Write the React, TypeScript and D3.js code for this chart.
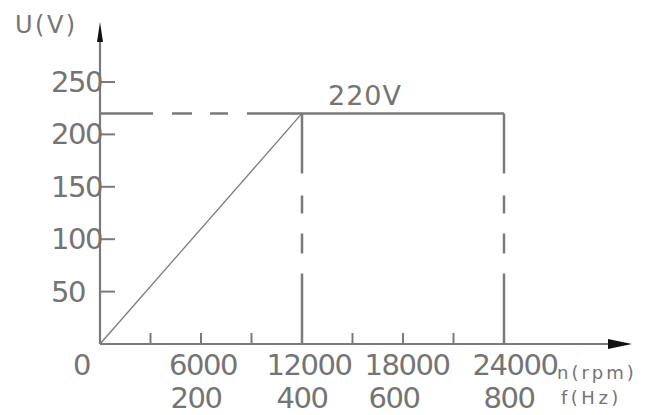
import React from "react";
import * as d3 from "d3";

const speedValues = [0, 12000, 24000];
const voltageValues = [0, 220, 220];
const speedLabels = [6000, 12000, 18000, 24000];
const freqLabels = [200, 400, 600, 800];
const minorSpeedTicks = [3000, 6000, 9000, 15000, 18000, 21000];
const voltageTicks = [50, 100, 150, 200, 250];
const ratedVoltageLabel = "220V";

const W = 653;
const H = 415;
const GRAY = "#7a7a7a";
const TEXT = "#747474";
const FONT = "'DejaVu Sans', sans-serif";

export default function App() {
  const x = d3.scaleLinear().domain([0, 24000]).range([100, 504]);
  const f = d3.scaleLinear().domain([0, 800]).range([100, 504]);
  const y = d3.scaleLinear().domain([0, 250]).range([344, 82]);

  const pts = speedValues.map((s, i) => [s, voltageValues[i]] as [number, number]);
  const line = d3.line<[number, number]>().x((d) => x(d[0])).y((d) => y(d[1]));
  const rise = line(pts.slice(0, 2)) || "";
  const plateau = line(pts.slice(1)) || "";

  const x0 = x(0);
  const y0 = y(0);
  const yTop = y(220);
  const upperOffsets = [2, 7, 4, 11];
  const lowerOffsets = [-5, 0, -9, 5];
  const num = { fontFamily: FONT, fontSize: 29, fill: TEXT, letterSpacing: -1.5 } as const;

  return (
    <svg width={W} height={H} style={{ position: "absolute", left: 0, top: 0, background: "#fff" }}>
      {/* dashed reference lines */}
      <line x1={x0} x2={x(12000)} y1={yTop} y2={yTop} stroke={GRAY} strokeWidth={2.5} strokeDasharray="53 19 20 18 18 19 60" />
      {[12000, 24000].map((v) => (
        <line key={v} x1={x(v)} x2={x(v)} y1={yTop} y2={y0} stroke={GRAY} strokeWidth={2.5} strokeDasharray="60 22 18 20 20 20 80" />
      ))}
      {/* data */}
      <path d={rise} fill="none" stroke={GRAY} strokeWidth={1.3} />
      <path d={plateau} fill="none" stroke={GRAY} strokeWidth={2.5} />

      {/* axes */}
      <line x1={x0} x2={622} y1={y0} y2={y0} stroke={GRAY} strokeWidth={2.2} />
      <path d={`M${632},${y0} L${608},${y0 - 5} L${608},${y0 + 5} Z`} fill="#111" />
      <line x1={x0} x2={x0} y1={y0} y2={34} stroke={GRAY} strokeWidth={2.2} />
      <path d={`M${x0},${22} L${x0 - 3},${42} L${x0 + 3},${42} Z`} fill="#111" />

      {minorSpeedTicks.map((t) => (
        <line key={t} x1={x(t)} x2={x(t)} y1={y0} y2={y0 - 11} stroke={GRAY} strokeWidth={2} />
      ))}
      {voltageTicks.map((t) => (
        <g key={t}>
          <line x1={x0} x2={x0 + 15} y1={y(t)} y2={y(t)} stroke={GRAY} strokeWidth={2} />
          <text x={51} y={y(t) + 10} {...num}>{t}</text>
        </g>
      ))}

      <text x={73} y={375} {...num}>0</text>
      {speedLabels.map((s, i) => (
        <text key={s} x={x(s) + upperOffsets[i]} y={375} textAnchor="middle" {...num}>{s}</text>
      ))}
      {freqLabels.map((v, i) => (
        <text key={v} x={f(v) + lowerOffsets[i]} y={408} textAnchor="middle" {...num}>{v}</text>
      ))}
      <text x={557} y={379} fontFamily={FONT} fontSize={18} letterSpacing={3} fill={TEXT}>n(rpm)</text>
      <text x={561} y={404} fontFamily={FONT} fontSize={18} letterSpacing={3.5} fill={TEXT}>f(Hz)</text>
      <text x={15} y={33} fontFamily={FONT} fontSize={24} letterSpacing={2.5} fill={TEXT}>U(V)</text>
      <text x={328} y={105} fontFamily={FONT} fontSize={27} letterSpacing={1} fill={TEXT}>{ratedVoltageLabel}</text>
    </svg>
  );
}
